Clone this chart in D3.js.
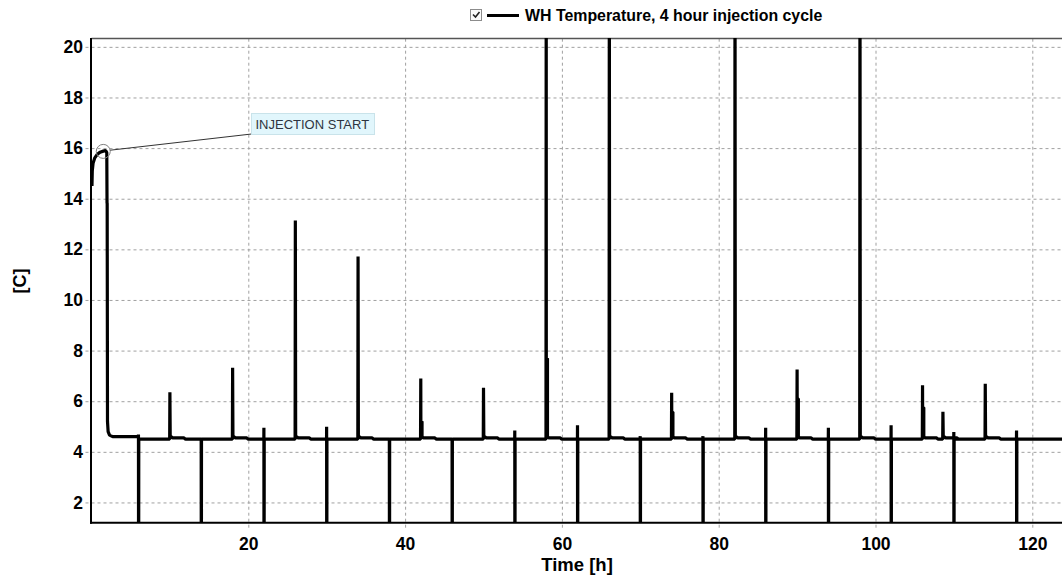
<!DOCTYPE html>
<html>
<head>
<meta charset="utf-8">
<script src="https://cdn.jsdelivr.net/npm/d3@7"></script>
<style>
  html, body { margin: 0; padding: 0; background: #fff; overflow: hidden; }
  svg { display: block; font-family: "Liberation Sans", Arial, sans-serif; }
</style>
</head>
<body>
<svg id="chart" width="1062" height="580"></svg>
<script>
// Well-head temperature record, 4 hour injection cycle

// Warm-up before injection and the first drop (hours, °C)
const startHours = [0.06, 0.1, 0.2, 0.4, 0.75, 1.1, 1.5, 1.8, 1.95, 1.98, 2.0, 2.04, 2.12, 2.3, 2.7, 5.96];
const startTemps = [14.5, 15.1, 15.4, 15.6, 15.76, 15.84, 15.88, 15.9, 15.82, 13.85, 13.8, 5.2, 4.8, 4.66, 4.6, 4.6];

// Level between injection events
const baseTemp = 4.5;

// Upward spikes: time, peak, and the lower shoulder beside the peak (null = none)
const upHours     = [10, 18, 26, 34, 42, 50, 58, 66.05, 74, 82.08, 90, 98.02, 106, 108.6, 114];
const upPeaks     = [6.35, 7.32, 13.14, 11.72, 6.9, 6.53, 25, 25, 6.33, 25, 7.25, 25, 6.63, 5.58, 6.69];
const upShoulders = [null, null, null, null, 5.2, null, 7.69, null, 5.57, null, 6.1, null, 5.75, null, null];

// Downward drops: time, small rise just before the drop, floor of the drop
const dropHours = [6, 14, 22, 30, 38, 46, 54, 62, 70, 78, 86, 94, 102, 110, 118];
const dropTops  = [4.68, 4.5, 4.95, 4.99, 4.5, 4.55, 4.84, 5.05, 4.62, 4.62, 4.95, 4.95, 5.05, 4.78, 4.84];
const dropFloor = 0;

const xTicks = [20, 40, 60, 80, 100, 120];
const yTicks = [2, 4, 6, 8, 10, 12, 14, 16, 18, 20];

const seriesName = "WH Temperature, 4 hour injection cycle";
const xTitle = "Time [h]";
const yTitle = "[C]";
const noteText = "INJECTION START";
const noteHour = 1.5, noteTemp = 15.87;

// ---- layout ----
const svg = d3.select("#chart");
const plotLeft = 91.5, plotTop = 38, plotBottom = 522.7;
const x = d3.scaleLinear().domain([0, 124]).range([plotLeft, plotLeft + 124 * 7.84]);
const y = d3.scaleLinear().domain([1.2, 20.35]).range([plotBottom, plotTop]);
const plotW = x.range()[1] - plotLeft;
const plotH = plotBottom - plotTop;

svg.append("defs").append("clipPath").attr("id", "plotClip")
  .append("rect").attr("x", plotLeft).attr("y", plotTop).attr("width", plotW).attr("height", plotH);

// ---- grid via axes ----
const gridColor = "#a0a0a0";
const yAxis = d3.axisLeft(y).tickValues(yTicks).tickSizeInner(-(plotW + 6)).tickSizeOuter(0).tickPadding(2.5);
const gy = svg.append("g").attr("transform", `translate(${plotLeft - 6},0)`).call(yAxis);
gy.select(".domain").remove();
gy.selectAll(".tick line").attr("stroke", gridColor).attr("stroke-dasharray", "3,3");
gy.selectAll(".tick text").attr("font-size", 17.5).attr("font-weight", "bold").attr("fill", "#000")
  .attr("font-family", "'Liberation Sans', Arial, sans-serif");

const xAxis = d3.axisBottom(x).tickValues(xTicks).tickSizeInner(-(plotH + 5)).tickSizeOuter(0).tickPadding(9.5);
const gx = svg.append("g").attr("transform", `translate(0,${plotBottom + 5})`).call(xAxis);
gx.select(".domain").remove();
gx.selectAll(".tick line").attr("stroke", gridColor).attr("stroke-dasharray", "3,3");
gx.selectAll(".tick text").attr("font-size", 17.5).attr("font-weight", "bold").attr("fill", "#000")
  .attr("font-family", "'Liberation Sans', Arial, sans-serif");

// ---- frame ----
svg.append("line").attr("x1", plotLeft).attr("x2", x.range()[1]).attr("y1", plotTop + 0.5).attr("y2", plotTop + 0.5)
  .attr("stroke", "#555").attr("stroke-width", 1.5);
svg.append("line").attr("x1", plotLeft - 0.5).attr("x2", plotLeft - 0.5).attr("y1", plotTop).attr("y2", plotBottom + 1)
  .attr("stroke", "#000").attr("stroke-width", 2);
svg.append("line").attr("x1", plotLeft - 1.5).attr("x2", x.range()[1]).attr("y1", plotBottom).attr("y2", plotBottom)
  .attr("stroke", "#000").attr("stroke-width", 2);

// ---- series ----
const pts = startHours.map((h, i) => [h, startTemps[i]]);
const events = [
  ...upHours.map((h, i) => ({ type: "up", h, peak: upPeaks[i], shoulder: upShoulders[i] })),
  ...dropHours.map((h, i) => ({ type: "drop", h, rise: dropTops[i] }))
].sort((a, b) => a.h - b.h);

events.forEach(e => {
  const prev = pts[pts.length - 1][1];
  if (e.type === "up") {
    pts.push([e.h - 0.03, prev], [e.h, e.peak]);
    if (e.shoulder != null) {
      pts.push([e.h + 0.01, e.shoulder], [e.h + 0.16, e.shoulder], [e.h + 0.16, baseTemp + 0.1]);
    } else {
      pts.push([e.h + 0.04, baseTemp + 0.12]);
    }
    pts.push([e.h + 0.35, baseTemp + 0.05], [e.h + 1.8, baseTemp + 0.05], [e.h + 2.0, baseTemp]);
  } else {
    pts.push([e.h - 0.02, prev], [e.h - 0.01, e.rise], [e.h, dropFloor], [e.h + 0.02, dropFloor], [e.h + 0.03, baseTemp]);
  }
});
pts.push([125, baseTemp]);

const line = d3.line().x(d => x(d[0])).y(d => y(d[1]));
svg.append("path")
  .attr("clip-path", "url(#plotClip)")
  .attr("d", line(pts))
  .attr("fill", "none").attr("stroke", "#000").attr("stroke-width", 3.2)
  .attr("stroke-linejoin", "bevel");

// ---- annotation ----
const cx = x(noteHour), cy = y(noteTemp);
svg.append("circle").attr("cx", cx).attr("cy", cy).attr("r", 7)
  .attr("fill", "none").attr("stroke", "#808080").attr("stroke-width", 1);
const box = { x: 251.5, y: 113.5, w: 123, h: 21 };
svg.append("line").attr("x1", cx + 7).attr("y1", cy - 1.2).attr("x2", box.x).attr("y2", box.y + 20.5)
  .attr("stroke", "#333").attr("stroke-width", 1);
svg.append("rect").attr("x", box.x).attr("y", box.y).attr("width", box.w).attr("height", box.h)
  .attr("fill", "#e1f6fc").attr("stroke", "#c9e3ea").attr("stroke-width", 1);
svg.append("text").attr("x", box.x + 4).attr("y", box.y + 15.5)
  .attr("font-size", 13).attr("fill", "#2e3440").text(noteText);

// ---- legend ----
const lg = svg.append("g");
lg.append("rect").attr("x", 470.5).attr("y", 9.5).attr("width", 11).attr("height", 11)
  .attr("fill", "#fafafa").attr("stroke", "#8c8c8c");
lg.append("path").attr("d", "M473,14.5 L475.5,17 L479.5,12")
  .attr("fill", "none").attr("stroke", "#222").attr("stroke-width", 1.6);
lg.append("line").attr("x1", 487).attr("x2", 519).attr("y1", 15.5).attr("y2", 15.5)
  .attr("stroke", "#000").attr("stroke-width", 3);
lg.append("text").attr("x", 525).attr("y", 20.7)
  .attr("font-size", 15.9).attr("font-weight", "bold").attr("fill", "#000").text(seriesName);

// ---- axis titles ----
svg.append("text").attr("x", 577).attr("y", 571).attr("text-anchor", "middle")
  .attr("font-size", 18.5).attr("font-weight", "bold").text(xTitle);
svg.append("text").attr("transform", "translate(26,281) rotate(-90)").attr("text-anchor", "middle")
  .attr("font-size", 18).attr("font-weight", "bold").text(yTitle);
</script>
</body>
</html>
